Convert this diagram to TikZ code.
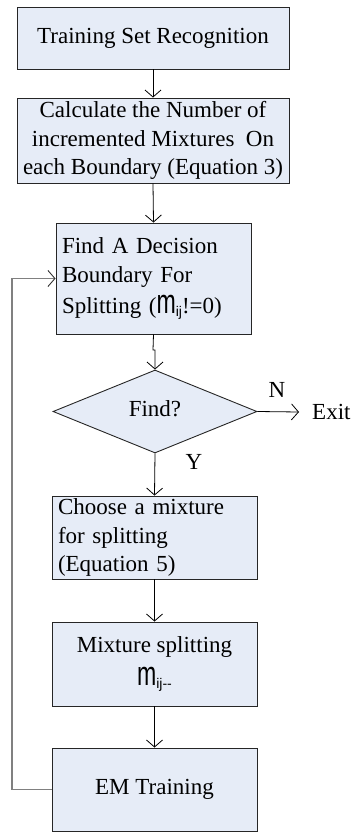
\documentclass[tikz,border=0pt]{standalone}
\usepackage{fontspec}
\usepackage{graphicx}
\setmainfont{Liberation Serif}
\newfontfamily\arfont{Liberation Sans}
\usetikzlibrary{shapes.geometric,arrows.meta}
\newcommand\mijsym{\raisebox{0pt}[17pt][0pt]{\arfont\fontsize{34}{34}\selectfont\scalebox{0.68}[1]{m}}\raisebox{-3pt}{\arfont\fontsize{14}{14}\selectfont ij}}
\definecolor{boxfill}{HTML}{E6ECF7}
\tikzset{
  x=1pt,y=-1pt,
  every node/.style={font=\fontsize{23}{28.5}\selectfont},
  proc/.style={draw=black!85,fill=boxfill,line width=0.9pt,rectangle,inner sep=0pt},
  cbox/.style={proc,align=center},
  lbox/.style={proc,align=left},
  dec/.style={draw=black!85,fill=boxfill,line width=0.9pt,diamond,inner sep=0pt,minimum width=204pt,minimum height=83pt},
  conn/.style={draw=black,line width=0.8pt,-{Straight Barb[length=7pt,width=16pt,line width=0.8pt]}},
  loopline/.style={draw=black!50,line width=1.6pt,-{Straight Barb[length=7pt,width=16pt,line width=0.9pt,color=black!80]}},
  lbl/.style={inner sep=0pt}
}
\begin{document}
\begin{tikzpicture}
\useasboundingbox (0,0) rectangle (352,832);
\node[cbox,minimum width=272pt,minimum height=62pt] (b1) at (153,38) {Training Set Recognition};
\node[cbox,minimum width=272pt,minimum height=85pt] (b2) at (153,140.5) {Calculate the Number of\\incremented Mixtures\ \ On\\each Boundary (Equation 3)};
\node[lbox,minimum width=195pt,minimum height=111pt,text width=183pt] (b3) at (153.5,278.5) {Find A Decision\\Boundary For\\[3pt]Splitting (\mijsym!=0)};
\node[dec] (d) at (155,411.5) {};
\node[lbl] (dt) at (155,409) {Find?};
\node[lbl,anchor=west] (exit) at (312,412) {Exit};
\node[lbl] (nl) at (277,390) {N};
\node[lbl] (yl) at (194,462) {Y};
\node[lbox,minimum width=205pt,minimum height=83pt,text width=193pt] (b4) at (154.5,537.5) {Choose a mixture\\for splitting\\(Equation 5)};
\node[cbox,minimum width=205pt,minimum height=84pt] (b5) at (154.5,664) {Mixture splitting\\[5pt]\mijsym{}\raisebox{-3pt}{\arfont\fontsize{14}{14}\selectfont --}};
\node[cbox,minimum width=205pt,minimum height=83pt] (b6) at (154.5,789.5) {EM Training};
\coordinate (j1) at (153,350);
\coordinate (j2) at (155,350);
\coordinate (lp) at (12,789.5);
\draw[conn] (b1.south) -- (b2.north);
\draw[conn] (b2.south) -- (b3.north);
\draw[conn] (b3.south) -- (j1) -- (j2) -- (d.north);
\draw[conn] (d.east) -- ([xshift=-13pt]exit.west);
\draw[conn] (d.south) -- (b4.north);
\draw[conn] (b4.south) -- (b5.north);
\draw[conn] (b5.south) -- (b6.north);
\draw[loopline] (b6.west) -- (lp) |- (b3.west);
\end{tikzpicture}
\end{document}
